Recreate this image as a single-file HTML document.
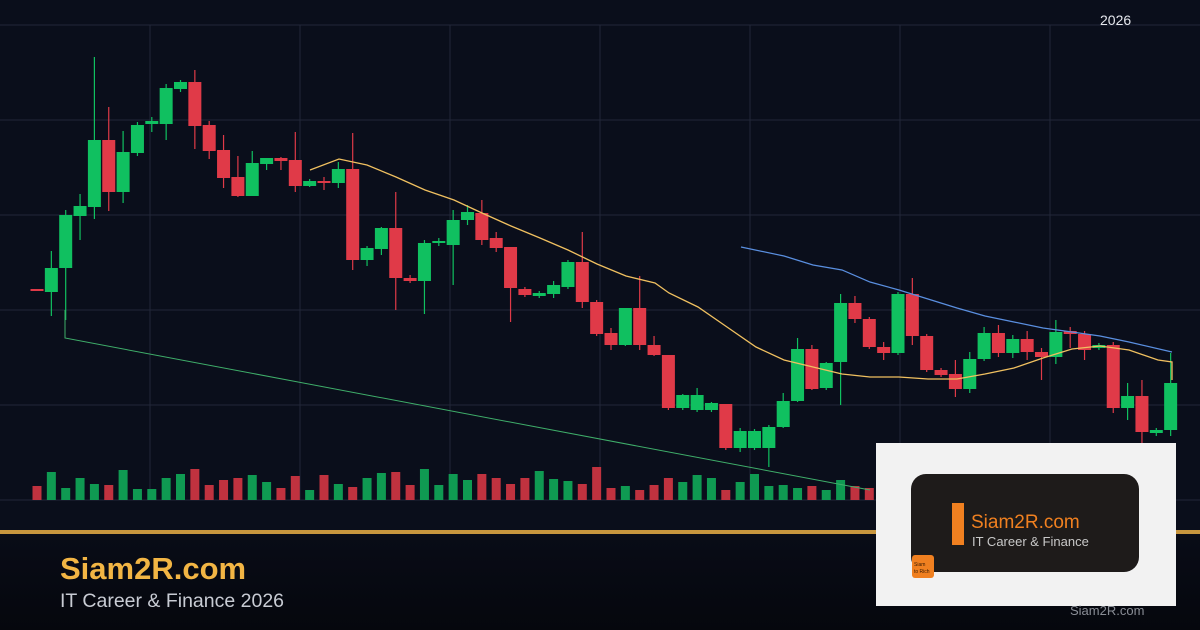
<!DOCTYPE html>
<html><head><meta charset="utf-8"><style>
html,body{margin:0;padding:0;width:1200px;height:630px;overflow:hidden;background:#0a0e1b;font-family:"Liberation Sans",sans-serif}
#w{position:relative;width:1200px;height:630px;background:#0a0e1b}
#bot{position:absolute;left:0;top:534px;width:1200px;height:96px;background:linear-gradient(#090c17,#05070d)}
</style></head><body><div id="w">
<div id="bot"></div>
<svg id="s" width="1200" height="630" style="position:absolute;left:0;top:0" xmlns="http://www.w3.org/2000/svg">
<g stroke="#222738" stroke-width="1" id="grid"></g>
<g id="vol"></g><g id="c"></g>
<polyline fill="none" stroke="#3fae6a" stroke-width="1" points="65,310 65,338 870,490"/>
<polyline fill="none" stroke="#f0c060" stroke-width="1.3" points="310,170 339,159 367,165 396,177 425,190 454,200 482,213 511,226 540,238 568,250 597,264 626,276 655,283 669,293 698,307 727,327 756,347 784,360 813,367 842,374 870,377 899,377 928,379 957,379 985,374 1014,368 1043,358 1072,349 1100,346 1129,350 1158,360 1172,362 1172,380"/>
<polyline fill="none" stroke="#5a8fe0" stroke-width="1.2" points="741,247 784,256 813,265 842,270 870,282 899,290 928,299 957,308 985,316 1014,322 1043,328 1072,332 1100,336 1129,342 1172,352"/>
<text x="1100" y="25" fill="#e6e8ee" font-size="14" font-family="Liberation Sans">2026</text>
<rect x="0" y="530" width="1200" height="4" fill="#c8963e"/>
<text x="60" y="579" fill="#f2b544" font-size="31" font-weight="bold" font-family="Liberation Sans">Siam2R.com</text>
<text x="60" y="607" fill="#c8ccd4" font-size="19.5" font-family="Liberation Sans">IT Career &amp; Finance 2026</text>
<rect x="876" y="443" width="300" height="163" fill="#f2f2f2"/>
<rect x="911" y="474" width="228" height="98" rx="15" fill="#1e1b1a"/>
<rect x="952" y="503" width="12" height="42" fill="#f08020"/>
<text x="971" y="528" fill="#f08020" font-size="19" font-family="Liberation Sans">Siam2R.com</text>
<text x="972" y="546" fill="#c8c8c8" font-size="13" font-family="Liberation Sans">IT Career &amp; Finance</text>
<rect x="912" y="555" width="22" height="23" rx="3" fill="#f08020"/>
<text x="914" y="566" fill="#3a1a00" font-size="5">Siam</text><text x="914" y="573" fill="#3a1a00" font-size="5">to Rich</text>
<text x="1070" y="615" fill="#8a8e96" font-size="13" font-family="Liberation Sans">Siam2R.com</text>
</svg>
<script>
var C=[[289,291,289,291],[292,268,251,316],[268,215,210,320],[216,206,194,240],[207,140,57,219],[140,192,107,211],[192,152,131,203],[153,125,122,156],[124,121,117,132],[124,88,84,140],[89,82,80,92],[82,126,70,149],[125,151,121,159],[150,178,135,188],[177,196,156,197],[196,163,151,196],[164,158,158,170],[158,161,157,170],[160,186,132,192],[186,181,179,187],[181,183,177,190],[183,169,162,188],[169,260,133,270],[260,248,246,266],[249,228,227,255],[228,278,192,310],[278,281,275,283],[281,243,240,314],[243,241,238,246],[245,220,210,285],[220,212,205,225],[213,240,200,245],[238,248,232,252],[247,288,247,322],[289,295,287,297],[296,293,291,298],[294,285,281,298],[287,262,260,289],[262,302,232,308],[302,334,300,336],[333,345,328,350],[345,308,308,346],[308,345,276,350],[345,355,336,356],[355,408,355,410],[408,395,394,410],[410,395,388,412],[410,403,402,412],[404,448,404,450],[448,431,428,452],[448,431,429,450],[448,427,425,467],[427,401,393,428],[401,349,338,402],[349,389,345,390],[388,363,362,390],[362,303,294,405],[303,319,296,323],[319,347,317,349],[347,353,342,360],[353,294,292,355],[294,336,278,345],[336,370,334,372],[370,375,368,377],[374,389,360,397],[389,359,352,393],[359,333,327,361],[333,353,325,357],[353,339,335,358],[339,352,331,360],[352,357,348,380],[357,332,320,364],[331,334,327,348],[334,350,331,360],[348,345,343,350],[345,408,342,413],[408,396,383,420],[396,432,380,445],[433,430,428,436],[430,383,353,436]];
var V=[14,28,12,22,16,15,30,11,11,22,26,31,15,20,22,25,18,12,24,10,25,16,13,22,27,28,15,31,15,26,20,26,22,16,22,29,21,19,16,33,12,14,10,15,22,18,25,22,10,18,26,14,15,12,14,10,20,14,12,16,20,18,15,12,14,16,20,18,14,12,16,18,14,12,10,14,12,16,10,26];
var s='',v='',g='';
[25,120,215,310,405,500].forEach(function(y){g+='<line x1="0" y1="'+y+'" x2="1200" y2="'+y+'"/>'});
[150,300,450,600,750,900,1050].forEach(function(x){g+='<line x1="'+x+'" y1="25" x2="'+x+'" y2="500"/>'});
C.forEach(function(c,i){var x=37+i*14.35,up=c[1]<c[0],col=up?'#10c060':'#e03a48',vc=up?'#0f9a52':'#c0323f';
var t=Math.min(c[0],c[1]),h=Math.max(Math.abs(c[1]-c[0]),2);
s+='<line x1="'+x+'" y1="'+c[2]+'" x2="'+x+'" y2="'+c[3]+'" stroke="'+col+'" stroke-width="1.2"/><rect x="'+(x-6.5)+'" y="'+t+'" width="13" height="'+h+'" fill="'+col+'"/>';
v+='<rect x="'+(x-4.5)+'" y="'+(500-V[i])+'" width="9" height="'+V[i]+'" fill="'+vc+'"/>';});
document.getElementById('c').innerHTML=s;document.getElementById('vol').innerHTML=v;document.getElementById('grid').innerHTML=g;
</script>
</div></body></html>
